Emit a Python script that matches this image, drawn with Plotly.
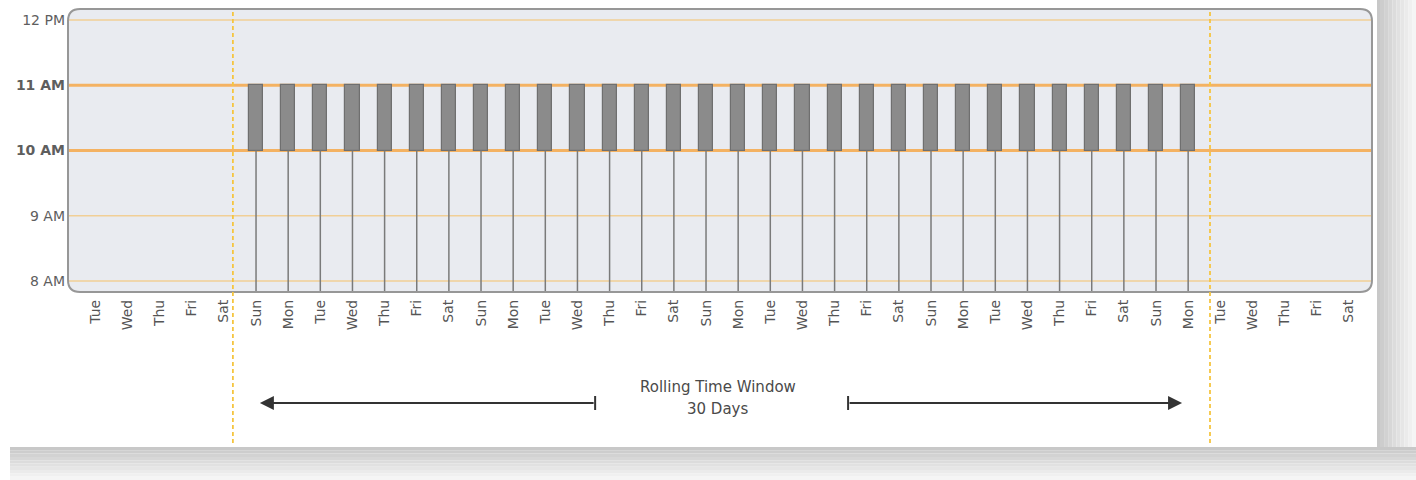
import plotly.graph_objects as go

# ---------------- data ----------------
day_labels = ["Tue", "Wed", "Thu", "Fri", "Sat",
              "Sun", "Mon", "Tue", "Wed", "Thu", "Fri", "Sat",
              "Sun", "Mon", "Tue", "Wed", "Thu", "Fri", "Sat",
              "Sun", "Mon", "Tue", "Wed", "Thu", "Fri", "Sat",
              "Sun", "Mon", "Tue", "Wed", "Thu", "Fri", "Sat",
              "Sun", "Mon",
              "Tue", "Wed", "Thu", "Fri", "Sat"]
day_index = list(range(len(day_labels)))
window_days = list(range(5, 35))          # 30 days with an event
event_start = [10] * len(window_days)     # 10 AM
event_end = [11] * len(window_days)       # 11 AM
hour_vals = [8, 9, 10, 11, 12]
hour_text = ["8 AM", "9 AM", "<b>10 AM</b>", "<b>11 AM</b>", "12 PM"]
highlight_hours = [10, 11]
window_bounds = [4.28, 34.68]
arrow_left = [15.55, 5.12]    # tail, head
arrow_right = [23.42, 33.81]  # tail, head
label_x = 19.37
label_lines = ["Rolling Time Window", "30 Days"]

# ---------------- layout geometry ----------------
W, H = 1416, 480
L, R, T, B = 68, 44, 9, 188
pw, ph = W - L - R, H - T - B
xr = [-0.85, 39.72]
yr = [7.83, 12.17]
FONT = "DejaVu Sans"


def px_to_paper_x(px):
    return (px - L) / pw


def py_to_paper_y(py):
    return (H - B - py) / ph


fig = go.Figure()

# stems from 10 AM down to bottom (slightly below -> tick marks)
sx, sy = [], []
for d, s in zip(window_days, event_start):
    sx += [d, d, None]
    sy += [s, yr[0] - 0.1, None]
fig.add_trace(go.Scatter(x=sx, y=sy, mode="lines",
                         line=dict(color="#7a7a7a", width=1.5),
                         hoverinfo="skip", cliponaxis=False, showlegend=False))

# event bars
fig.add_trace(go.Bar(x=window_days,
                     y=[e - s for s, e in zip(event_start, event_end)],
                     base=event_start, width=0.44,
                     marker=dict(color="#8b8b8b", line=dict(color="#6f6f6f", width=1.2)),
                     showlegend=False, hoverinfo="skip"))

shapes = []

# rounded plot background
rx, ry = 12 / pw, 12 / ph
rpath = (f"M {rx},0 L {1-rx},0 Q 1,0 1,{ry} L 1,{1-ry} Q 1,1 {1-rx},1 "
         f"L {rx},1 Q 0,1 0,{1-ry} L 0,{ry} Q 0,0 {rx},0 Z")

# card shadow (bottom and right)
n = 10
card_right, card_bottom, card_left = 1377, 447, 10
for k in range(n):
    g = int(200 + (245 - 200) * k / (n - 1))
    col = f"rgb({g},{g},{g})"
    y_top = card_bottom + (H - card_bottom) * k / n
    y_bot = card_bottom + (H - card_bottom) * (k + 1) / n
    shapes.append(dict(type="rect", xref="paper", yref="paper",
                       x0=px_to_paper_x(card_left), x1=px_to_paper_x(W),
                       y0=py_to_paper_y(y_bot), y1=py_to_paper_y(y_top),
                       fillcolor=col, line=dict(width=0), layer="below"))
    x_l = card_right + (W - card_right) * k / n
    x_r = card_right + (W - card_right) * (k + 1) / n
    shapes.append(dict(type="rect", xref="paper", yref="paper",
                       x0=px_to_paper_x(x_l), x1=px_to_paper_x(x_r),
                       y0=py_to_paper_y(card_bottom), y1=py_to_paper_y(0),
                       fillcolor=col, line=dict(width=0), layer="below"))

shapes.append(dict(type="path", path=rpath, xref="paper", yref="paper",
                   fillcolor="#e9ebf0", line=dict(width=0), layer="below"))

# hour grid lines
for h in hour_vals:
    hl = h in highlight_hours
    shapes.append(dict(type="line", xref="paper", yref="y", x0=0, x1=1, y0=h, y1=h,
                       line=dict(color="#f4b262" if hl else "#f1cf96",
                                 width=3 if hl else 1.5),
                       layer="below"))

# border
shapes.append(dict(type="path", path=rpath, xref="paper", yref="paper",
                   line=dict(color="#979797", width=2), layer="above"))

# window boundaries (dashed)
for wb in window_bounds:
    shapes.append(dict(type="line", xref="x", yref="paper", x0=wb, x1=wb,
                       y0=py_to_paper_y(443), y1=1,
                       line=dict(color="#f5c540", width=1.8, dash="4px,3px"),
                       layer="above"))

# arrow tail bars
ay = py_to_paper_y(403)
for tail in [arrow_left[0], arrow_right[0]]:
    shapes.append(dict(type="line", xref="x", yref="paper", x0=tail, x1=tail,
                       y0=ay - 7 / ph, y1=ay + 7 / ph,
                       line=dict(color="#333333", width=2)))

annotations = []
for tail, head in [arrow_left, arrow_right]:
    annotations.append(dict(x=head, y=ay, xref="x", yref="paper",
                            ax=tail, ay=0, axref="x",
                            text="", showarrow=True, arrowhead=2, arrowsize=1.4,
                            arrowwidth=2, arrowcolor="#333333", standoff=0))
for txt, py in zip(label_lines, [387, 409]):
    annotations.append(dict(x=label_x, y=py_to_paper_y(py), xref="x", yref="paper",
                            text=txt, showarrow=False, xanchor="center",
                            yanchor="middle",
                            font=dict(size=15, color="#4a4a4a", family=FONT)))

fig.update_layout(
    width=W, height=H,
    margin=dict(l=L, r=R, t=T, b=B),
    paper_bgcolor="white",
    plot_bgcolor="rgba(0,0,0,0)",
    shapes=shapes,
    annotations=annotations,
    bargap=0,
    xaxis=dict(range=xr, tickmode="array", tickvals=day_index, ticktext=day_labels,
               tickangle=-90, showgrid=False, zeroline=False, showline=False,
               ticks="", ticklabelstandoff=4,
               tickfont=dict(size=14, color="#555555", family=FONT)),
    yaxis=dict(range=yr, tickmode="array", tickvals=hour_vals, ticktext=hour_text,
               showgrid=False, zeroline=False, showline=False, ticks="",
               ticklabelstandoff=2,
               tickfont=dict(size=14, color="#5e5e5e", family=FONT)),
    font=dict(family=FONT),
)

fig.write_html("out.html",
               config={"displayModeBar": False},
               post_script="document.body.style.margin='0';"
                           "document.body.style.overflow='hidden';")
